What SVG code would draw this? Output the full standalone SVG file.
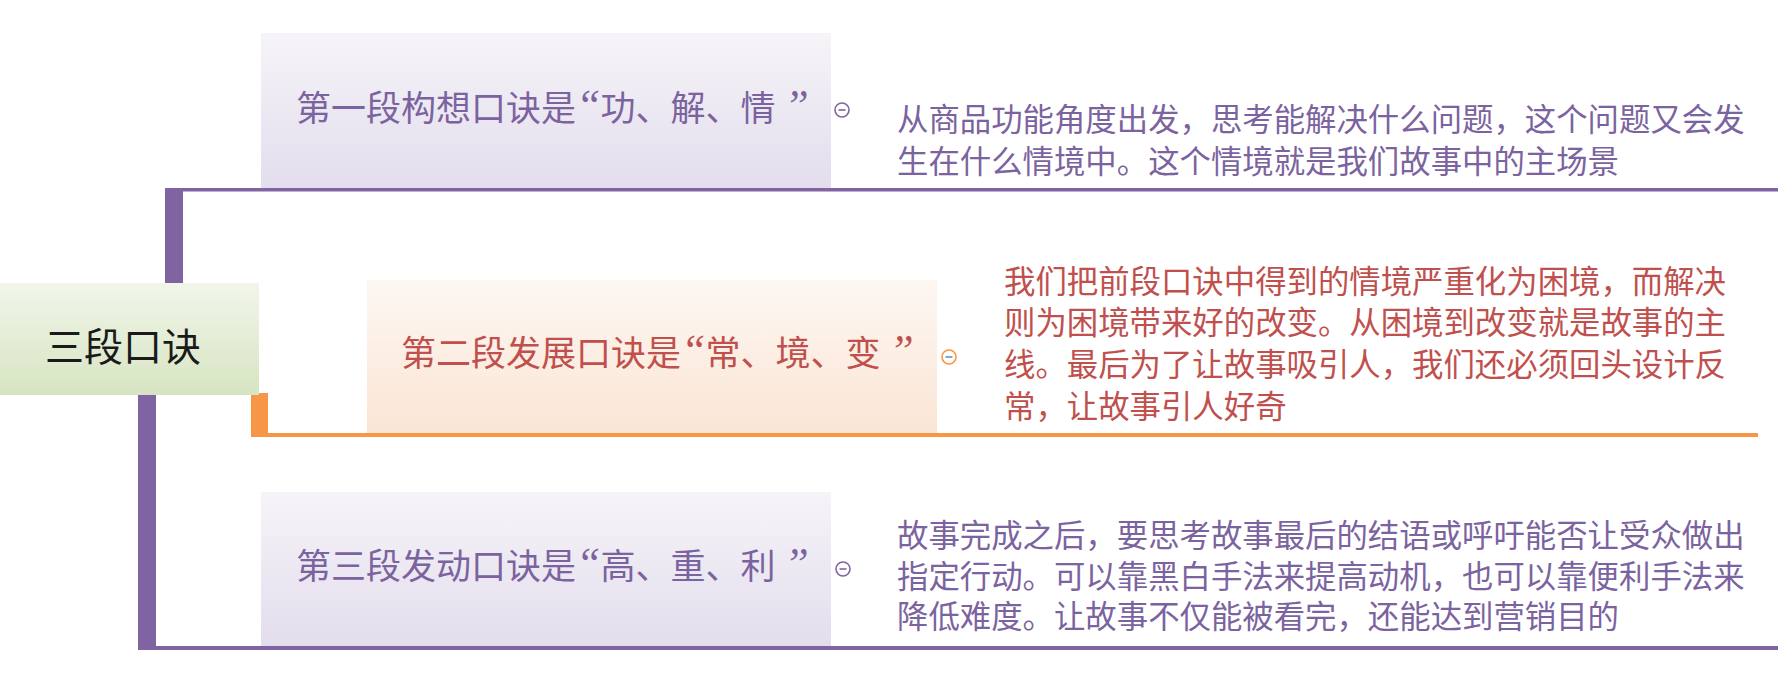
<svg xmlns="http://www.w3.org/2000/svg" width="1792" height="682" viewBox="0 0 1792 682">
<defs>
<linearGradient id="gPurple" x1="0" y1="0" x2="0" y2="1">
<stop offset="0" stop-color="#f6f4f8"/>
<stop offset="1" stop-color="#e3dded"/>
</linearGradient>
<linearGradient id="gOrange" x1="0" y1="0" x2="0" y2="1">
<stop offset="0" stop-color="#fdf7f2"/>
<stop offset="1" stop-color="#fbe5d5"/>
</linearGradient>
<linearGradient id="gGreen" x1="0" y1="0" x2="0" y2="1">
<stop offset="0" stop-color="#f1f6ea"/>
<stop offset="1" stop-color="#d7e4c2"/>
</linearGradient>
<style>
.cjk{font-family:"Liberation Serif","Noto Sans CJK SC",serif;font-size:35px;}
.q{font-size:44px;font-style:italic;}
.desc{font-family:"Noto Sans CJK SC",sans-serif;font-size:31.4px;}
.pt{fill:#7b63a0;}
.rt{fill:#c0504d;}
.purple{fill:#8064a2;}
.orange{fill:#f79646;}
.icon{fill:#ffffff;stroke-width:1.6;}
</style>
</defs>
<rect width="1792" height="682" fill="#ffffff"/>
<g id="connectors">
<rect class="purple" x="165" y="188" width="18" height="96"/>
<rect class="purple" x="165" y="188" width="1613" height="3.5"/>
<rect class="purple" x="138" y="395" width="18" height="255"/>
<rect class="purple" x="138" y="646" width="1640" height="4"/>
<rect class="orange" x="251" y="393" width="17" height="44"/>
<rect class="orange" x="251" y="433" width="1507" height="4"/>
</g>
<g id="root">
<rect x="0" y="283" width="259" height="112" fill="url(#gGreen)"/>
<text x="123" y="344" font-family="Noto Sans CJK SC,sans-serif" font-size="39" fill="#1a1a1a" text-anchor="middle" dominant-baseline="central">三段口诀</text>
</g>
<g id="node1">
<rect x="261" y="33" width="570" height="155" fill="url(#gPurple)"/>
<text class="cjk pt" x="296" y="109" dominant-baseline="central">第一段构想口诀是<tspan class="q" dy="-4">“</tspan><tspan dy="4">功、解、情 </tspan><tspan class="q" dy="-4">”</tspan></text>
<circle class="icon" cx="842" cy="110" r="7" stroke="#8064a2"/>
<line x1="838.5" y1="110" x2="845.5" y2="110" stroke="#8064a2" stroke-width="1.6"/>
</g>
<g id="desc1">
<text class="desc pt" dominant-baseline="central"><tspan x="897" y="117">从商品功能角度出发，思考能解决什么问题，这个问题又会发</tspan><tspan x="897" y="159">生在什么情境中。这个情境就是我们故事中的主场景</tspan></text>
</g>
<g id="node2">
<rect x="367" y="280" width="570" height="153" fill="url(#gOrange)"/>
<text class="cjk rt" x="401" y="354" dominant-baseline="central">第二段发展口诀是<tspan class="q" dy="-4">“</tspan><tspan dy="4">常、境、变 </tspan><tspan class="q" dy="-4">”</tspan></text>
<circle class="icon" cx="949" cy="357" r="7" stroke="#f79646"/>
<line x1="945.5" y1="357" x2="952.5" y2="357" stroke="#7a8aa6" stroke-width="1.6"/>
</g>
<g id="desc2">
<text class="desc rt" dominant-baseline="central"><tspan x="1004" y="279">我们把前段口诀中得到的情境严重化为困境，而解决</tspan><tspan x="1004" y="320">则为困境带来好的改变。从困境到改变就是故事的主</tspan><tspan x="1004" y="362">线。最后为了让故事吸引人，我们还必须回头设计反</tspan><tspan x="1004" y="404">常，让故事引人好奇</tspan></text>
</g>
<g id="node3">
<rect x="261" y="492" width="570" height="154" fill="url(#gPurple)"/>
<text class="cjk pt" x="296" y="567" dominant-baseline="central">第三段发动口诀是<tspan class="q" dy="-4">“</tspan><tspan dy="4">高、重、利 </tspan><tspan class="q" dy="-4">”</tspan></text>
<circle class="icon" cx="843" cy="569" r="7" stroke="#8064a2"/>
<line x1="839.5" y1="569" x2="846.5" y2="569" stroke="#8064a2" stroke-width="1.6"/>
</g>
<g id="desc3">
<text class="desc pt" dominant-baseline="central"><tspan x="897" y="533">故事完成之后，要思考故事最后的结语或呼吁能否让受众做出</tspan><tspan x="897" y="574">指定行动。可以靠黑白手法来提高动机，也可以靠便利手法来</tspan><tspan x="897" y="614">降低难度。让故事不仅能被看完，还能达到营销目的</tspan></text>
</g>
</svg>
